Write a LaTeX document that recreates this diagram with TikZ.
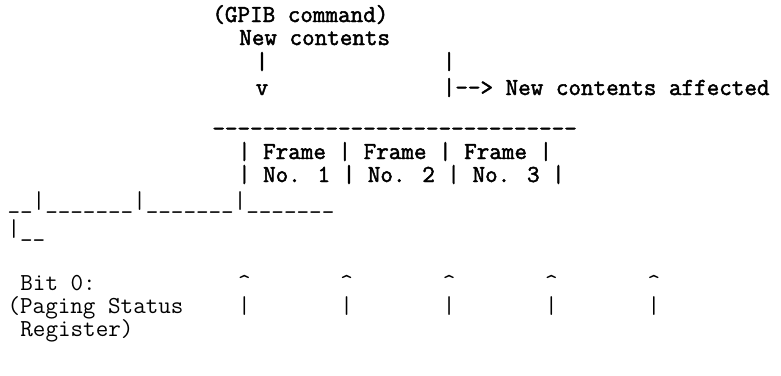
\documentclass[tikz,border=0pt]{standalone}
\usepackage{fontspec}
\newfontfamily\heavytt{Latin Modern Mono}[RawFeature={embolden=2}]
\newcommand\hyp{-\kern0pt}
\newcommand\ul{\_\kern0pt}
\newcommand\hyps[1]{\foreach\i in {1,...,#1}{\hyp}}
\newcommand\uls[1]{\foreach\i in {1,...,#1}{\ul}}
\begin{document}
\begin{tikzpicture}[x=1pt,y=-1pt,
  txt/.style={anchor=base west,inner sep=0pt,outer sep=0pt,
    font=\fontsize{24.4}{24.4}\selectfont\ttfamily},
  htxt/.style={txt,font=\fontsize{24.4}{24.4}\selectfont\heavytt},
  hctxt/.style={htxt,anchor=base}]
\useasboundingbox (0,0) rectangle (781,375);
% column c left edge = 7.6 + 12.8 c
\def\cx#1{7.6+12.8*#1}
% top block
\node[htxt] (gpib) at ({\cx{16}},22) {(GPIB command)};
\node[htxt] (newc) at ({\cx{18.1}},45) {New contents};
\node[hctxt] (bar1) at (262,69) {|};
\node[htxt] (bar2) at ({\cx{34}},69) {|};
\node[hctxt] (vv)   at (262,95) {v};
\node[htxt] (aff)  at ({\cx{34}},95) {|\hyp\hyp> New contents affected};
\node[htxt] (dash) at ({\cx{16}},136) {\hyps{29}};
\node[htxt] (fr)   at ({\cx{18}},159) {| Frame | Frame | Frame |};
\node[htxt] (no)   at ({\cx{18}},182) {| No. 1 | No. 2 | No. 3 |};
% timing line
\node[txt] (line1) at ({\cx{0}},208) {\uls{2}|\uls{7}|\uls{7}|\uls{7}};
\node[txt] (line2) at ({\cx{0}},236) {|\uls{2}};
% bit 0
\node[txt] (bit) at ({\cx{1}},290) {Bit 0:};
\node[txt] (pag) at ({\cx{0}},313) {(Paging Status};
\node[txt] (reg) at ({\cx{1}},336) {Register)};
\foreach \c [count=\k] in {18,26,34,42,50}{
  \node[txt] (car\k) at ({\cx{\c}},290) {\textasciicircum};
  \node[txt] (pb\k)  at ({\cx{\c}},313) {|};
}
\end{tikzpicture}
\end{document}
